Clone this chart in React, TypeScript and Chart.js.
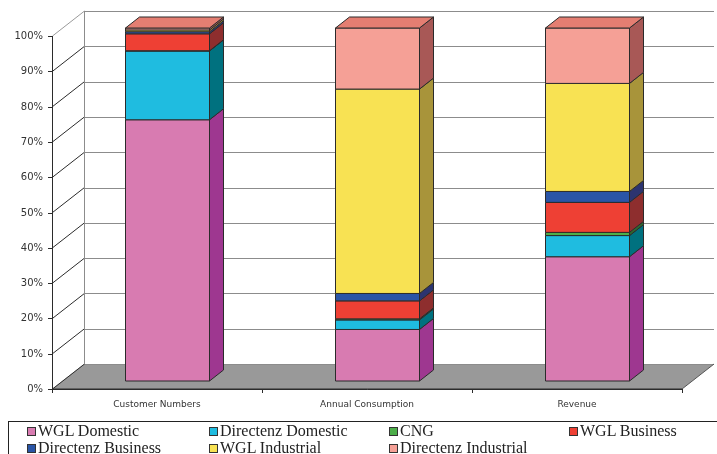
import React, { useEffect, useRef } from 'react';
import { Chart, registerables } from 'chart.js';

Chart.register(...registerables);

// ---- data ----
const categories = ['Customer Numbers', 'Annual Consumption', 'Revenue'];
const wglDomestic = [74.0, 14.6, 35.2];
const directenzDomestic = [19.5, 2.7, 6.0];
const cng = [0.05, 0.3, 0.9];
const wglBusiness = [4.8, 5.1, 8.5];
const directenzBusiness = [0.6, 2.1, 3.1];
const wglIndustrial = [0.5, 57.9, 30.6];
const directenzIndustrial = [0.55, 17.3, 15.7];
const seriesNames = [
  'WGL Domestic',
  'Directenz Domestic',
  'CNG',
  'WGL Business',
  'Directenz Business',
  'WGL Industrial',
  'Directenz Industrial',
];
const yTickValues = [0, 10, 20, 30, 40, 50, 60, 70, 80, 90, 100];

// front / side / top shades for each series
const frontColors = ['#D87BB1', '#1FBCE0', '#4DAE4A', '#EE4034', '#2A55A6', '#F8E253', '#F5A096'];
const sideColors = ['#9E3790', '#00717F', '#2E6B2E', '#8E2E2E', '#2C3470', '#A8943A', '#A85856'];
const topColors = ['#E89AC6', '#5CCFEA', '#7CC679', '#E86A62', '#4E72B8', '#E9D56A', '#E47E72'];

// depth geometry of the 3D box
const WALL_DX = 32;
const WALL_DY = -25;
const BAR_OFF_DX = 10;
const BAR_OFF_DY = -8;
const BAR_DX = 14;
const BAR_DY = -11;

const LINE = '#2b2b2b';

const p = (v: number) => Math.round(v) + 0.5;

const wallsPlugin = {
  id: 'walls3d',
  beforeDatasetsDraw(chart: any) {
    const ctx = chart.ctx as CanvasRenderingContext2D;
    const xs = chart.scales.x;
    const ys = chart.scales.y;
    const left = xs.left;
    const right = xs.right;
    const y0 = ys.getPixelForValue(0);
    const y100 = ys.getPixelForValue(100);
    ctx.save();
    ctx.lineWidth = 1;

    // floor
    ctx.fillStyle = '#999999';
    ctx.beginPath();
    ctx.moveTo(left, y0);
    ctx.lineTo(right, y0);
    ctx.lineTo(right + WALL_DX, y0 + WALL_DY);
    ctx.lineTo(left + WALL_DX, y0 + WALL_DY);
    ctx.closePath();
    ctx.fill();

    // back wall grid lines and left wall diagonals
    yTickValues.forEach((v) => {
      const yf = ys.getPixelForValue(v);
      const yb = yf + WALL_DY;
      ctx.strokeStyle = '#8c8c8c';
      ctx.beginPath();
      ctx.moveTo(left + WALL_DX, p(yb));
      ctx.lineTo(right + WALL_DX, p(yb));
      ctx.stroke();
      ctx.strokeStyle = v === 100 ? '#9a9a9a' : LINE;
      ctx.beginPath();
      ctx.moveTo(p(left), yf);
      ctx.lineTo(p(left + WALL_DX), yb);
      ctx.stroke();
      // tick mark
      ctx.strokeStyle = LINE;
      ctx.beginPath();
      ctx.moveTo(left - 4, p(yf));
      ctx.lineTo(left, p(yf));
      ctx.stroke();
    });

    // back wall left edge
    ctx.strokeStyle = '#8c8c8c';
    ctx.beginPath();
    ctx.moveTo(p(left + WALL_DX), y100 + WALL_DY);
    ctx.lineTo(p(left + WALL_DX), y0 + WALL_DY);
    ctx.stroke();

    // floor right edge
    ctx.strokeStyle = '#555555';
    ctx.beginPath();
    ctx.moveTo(right, y0);
    ctx.lineTo(right + WALL_DX, y0 + WALL_DY);
    ctx.stroke();

    // front value axis and category axis
    ctx.strokeStyle = LINE;
    ctx.beginPath();
    ctx.moveTo(p(left), y100);
    ctx.lineTo(p(left), y0);
    ctx.lineTo(right, y0);
    ctx.stroke();
    ctx.beginPath();
    ctx.moveTo(p(left), p(y0));
    ctx.lineTo(right, p(y0));
    ctx.stroke();

    // category boundary ticks
    const n = categories.length;
    const step = (right - left) / n;
    for (let i = 0; i <= n; i++) {
      const xx = p(left + i * step);
      ctx.beginPath();
      ctx.moveTo(xx, y0);
      ctx.lineTo(xx, y0 + 4);
      ctx.stroke();
    }

    // value labels
    ctx.fillStyle = '#333333';
    ctx.font = "10px 'DejaVu Sans'";
    ctx.textAlign = 'right';
    ctx.textBaseline = 'middle';
    yTickValues.forEach((v) => {
      ctx.fillText(v + '%', left - 9, ys.getPixelForValue(v) + 0.5);
    });

    // category labels
    ctx.font = "9px 'DejaVu Sans'";
    ctx.textAlign = 'center';
    categories.forEach((c, i) => {
      ctx.fillText(c, xs.getPixelForValue(i), y0 + 16);
    });
    ctx.restore();
  },
  afterDatasetsDraw(chart: any) {
    const ctx = chart.ctx as CanvasRenderingContext2D;
    const nSets = chart.data.datasets.length;
    ctx.save();
    ctx.lineWidth = 1;
    ctx.strokeStyle = LINE;
    ctx.lineJoin = 'miter';
    categories.forEach((_, i) => {
      let topIndex = -1;
      for (let d = 0; d < nSets; d++) {
        if ((chart.data.datasets[d].data[i] as number) > 0) topIndex = d;
      }
      for (let d = 0; d < nSets; d++) {
        const el = chart.getDatasetMeta(d).data[i];
        const { x, y, base, width } = el.getProps(['x', 'y', 'base', 'width'], true);
        const x0 = Math.round(x - width / 2 + BAR_OFF_DX) + 0.5;
        const x1 = Math.round(x + width / 2 + BAR_OFF_DX) + 0.5;
        const yT = y + BAR_OFF_DY;
        const yB = base + BAR_OFF_DY;

        // front face
        ctx.fillStyle = frontColors[d];
        ctx.beginPath();
        ctx.rect(x0, yT, x1 - x0, yB - yT);
        ctx.fill();
        ctx.stroke();

        // side face
        ctx.fillStyle = sideColors[d];
        ctx.beginPath();
        ctx.moveTo(x1, yB);
        ctx.lineTo(x1 + BAR_DX, yB + BAR_DY);
        ctx.lineTo(x1 + BAR_DX, yT + BAR_DY);
        ctx.lineTo(x1, yT);
        ctx.closePath();
        ctx.fill();
        ctx.stroke();

        // top face of the stack
        if (d === topIndex) {
          ctx.fillStyle = topColors[d];
          ctx.beginPath();
          ctx.moveTo(x0, yT);
          ctx.lineTo(x0 + BAR_DX, yT + BAR_DY);
          ctx.lineTo(x1 + BAR_DX, yT + BAR_DY);
          ctx.lineTo(x1, yT);
          ctx.closePath();
          ctx.fill();
          ctx.stroke();
        }
      }
    });
    ctx.restore();
  },
};

const seriesData = [
  wglDomestic,
  directenzDomestic,
  cng,
  wglBusiness,
  directenzBusiness,
  wglIndustrial,
  directenzIndustrial,
];

const legendCols = [27, 209, 389, 569];
const legendRows = [423, 440];

export default function App() {
  const canvasRef = useRef<HTMLCanvasElement | null>(null);

  useEffect(() => {
    if (!canvasRef.current) return;
    const chart = new Chart(canvasRef.current, {
      type: 'bar',
      data: {
        labels: categories,
        datasets: seriesNames.map((name, d) => ({
          label: name,
          data: seriesData[d],
          backgroundColor: 'rgba(0,0,0,0)',
          borderWidth: 0,
          stack: 'share',
          barPercentage: 0.4,
          categoryPercentage: 1.0,
        })),
      },
      options: {
        responsive: false,
        animation: false,
        layout: { padding: { left: 52, right: 35, top: 36, bottom: 65 } },
        scales: {
          x: { stacked: true, display: false },
          y: { stacked: true, display: false, min: 0, max: 100 },
        },
        plugins: {
          legend: { display: false },
          tooltip: { enabled: false },
        },
      },
      plugins: [wallsPlugin],
    });
    return () => chart.destroy();
  }, []);

  return (
    <div
      style={{
        position: 'fixed',
        left: 0,
        top: 0,
        width: 717,
        height: 454,
        overflow: 'hidden',
        background: '#ffffff',
      }}
    >
      <canvas ref={canvasRef} width={717} height={454} style={{ display: 'block' }} />
      <div
        style={{
          position: 'absolute',
          left: 8,
          top: 421,
          width: 730,
          height: 60,
          border: '1px solid #222',
          boxSizing: 'border-box',
        }}
      />
      {seriesNames.map((name, d) => {
        const col = d % 4;
        const row = Math.floor(d / 4);
        return (
          <div
            key={name}
            style={{
              position: 'absolute',
              left: legendCols[col],
              top: legendRows[row],
              height: 16,
              lineHeight: '16px',
              fontFamily: "'Liberation Serif', serif",
              fontSize: 16,
              color: '#222',
              whiteSpace: 'nowrap',
              display: 'flex',
              alignItems: 'center',
            }}
          >
            <span
              style={{
                display: 'inline-block',
                width: 9,
                height: 9,
                boxSizing: 'border-box',
                border: '1px solid #333',
                background: frontColors[d],
                marginRight: 2,
                marginTop: 1,
              }}
            />
            {name}
          </div>
        );
      })}
    </div>
  );
}
